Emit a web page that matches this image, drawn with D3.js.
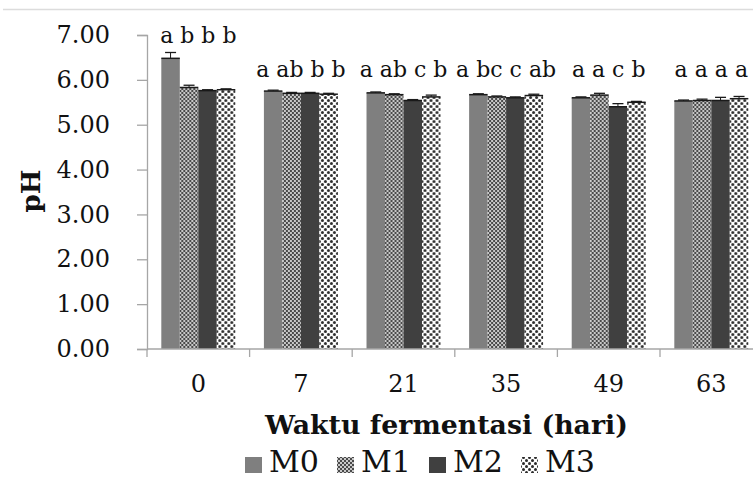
<!DOCTYPE html>
<html>
<head>
<meta charset="utf-8">
<script src="https://cdn.jsdelivr.net/npm/d3@7"></script>
<style>
  html, body { margin: 0; padding: 0; background: #fff; }
  svg { display: block; }
  text { font-family: "DejaVu Serif", serif; fill: #111; }
</style>
</head>
<body>
<svg id="chart" width="753" height="478"></svg>
<script>
// Fermentation days (categories) and treatment series
const categories = ["0", "7", "21", "35", "49", "63"];
const seriesNames = ["M0", "M1", "M2", "M3"];

// Mean pH per treatment
const M0 = [6.48, 5.75, 5.71, 5.67, 5.60, 5.53];
const M1 = [5.83, 5.70, 5.67, 5.62, 5.66, 5.54];
const M2 = [5.76, 5.70, 5.54, 5.60, 5.40, 5.54];
const M3 = [5.78, 5.68, 5.62, 5.65, 5.50, 5.58];

// Standard deviation (error bars)
const M0err = [0.13, 0.02, 0.02, 0.02, 0.02, 0.02];
const M1err = [0.05, 0.02, 0.02, 0.02, 0.04, 0.03];
const M2err = [0.02, 0.02, 0.02, 0.02, 0.07, 0.07];
const M3err = [0.02, 0.02, 0.04, 0.03, 0.02, 0.05];

// Significance letters per day
const sigLetters = ["a b b b", "a ab b b", "a ab c b", "a bc c ab", "a a c b", "a a a a"];
// pH level at which each letter row sits
const sigLevel = [6.82, 6.06, 6.06, 6.06, 6.06, 6.06];

const yTicks = [0, 1, 2, 3, 4, 5, 6, 7];

const values = { M0, M1, M2, M3 };
const errors = { M0: M0err, M1: M1err, M2: M2err, M3: M3err };

const svg = d3.select("#chart");
const plotLeft = 147, plotTop = 35, plotBottom = 349, catStep = 102.6;

const x = d3.scaleBand()
  .domain(categories)
  .range([plotLeft, plotLeft + catStep * categories.length])
  .paddingInner(0.279)
  .paddingOuter(0.1395);
const xs = d3.scaleBand().domain(seriesNames).range([0, x.bandwidth()]);
const y = d3.scaleLinear().domain([0, 7]).range([plotBottom, plotTop]);

// fill patterns
const defs = svg.append("defs");
const p1 = defs.append("pattern").attr("id", "pM1")
  .attr("patternUnits", "userSpaceOnUse").attr("width", 4).attr("height", 4);
p1.append("rect").attr("width", 4).attr("height", 4).attr("fill", "#c8c8c8");
p1.append("rect").attr("width", 2).attr("height", 2).attr("fill", "#4a4a4a");
p1.append("rect").attr("x", 2).attr("y", 2).attr("width", 2).attr("height", 2).attr("fill", "#4a4a4a");

const p3 = defs.append("pattern").attr("id", "pM3")
  .attr("patternUnits", "userSpaceOnUse").attr("width", 6).attr("height", 6);
p3.append("rect").attr("width", 6).attr("height", 6).attr("fill", "#fff");
p3.append("circle").attr("cx", 1.5).attr("cy", 1.5).attr("r", 1.5).attr("fill", "#2a2a2a");
p3.append("circle").attr("cx", 4.5).attr("cy", 4.5).attr("r", 1.5).attr("fill", "#2a2a2a");

const fills = { M0: "#7f7f7f", M1: "url(#pM1)", M2: "#404040", M3: "url(#pM3)" };

// thin frame line at the top
svg.append("line").attr("x1", 3).attr("x2", 753).attr("y1", 9.5).attr("y2", 9.5)
  .attr("stroke", "#dcdcdc").attr("stroke-width", 1.5);

// bars
const groups = svg.append("g").selectAll("g")
  .data(categories)
  .join("g")
  .attr("transform", d => `translate(${x(d)},0)`);

groups.each(function (cat, ci) {
  const g = d3.select(this);
  seriesNames.forEach(s => {
    const v = values[s][ci], e = errors[s][ci];
    const bx = xs(s), bw = xs.bandwidth();
    g.append("rect")
      .attr("x", bx).attr("y", y(v))
      .attr("width", bw).attr("height", y(0) - y(v))
      .attr("fill", fills[s]);
    g.append("line")
      .attr("x1", bx).attr("x2", bx + bw)
      .attr("y1", y(v)).attr("y2", y(v))
      .attr("stroke", "#1a1a1a").attr("stroke-width", 1.5);
    const cx = bx + bw / 2;
    g.append("line")
      .attr("x1", cx).attr("x2", cx)
      .attr("y1", y(v)).attr("y2", y(v + e))
      .attr("stroke", "#1a1a1a").attr("stroke-width", 1);
    g.append("line")
      .attr("x1", cx - 5.5).attr("x2", cx + 5.5)
      .attr("y1", y(v + e)).attr("y2", y(v + e))
      .attr("stroke", "#1a1a1a").attr("stroke-width", 1.3);
  });
  g.append("text")
    .attr("x", x.bandwidth() / 2)
    .attr("y", y(sigLevel[ci]))
    .attr("text-anchor", "middle")
    .attr("font-size", 22)
    .text(sigLetters[ci]);
});

// y axis
const yAxis = svg.append("g")
  .attr("transform", `translate(${plotLeft},0)`)
  .call(d3.axisLeft(y).tickValues(yTicks).tickFormat(d3.format(".2f")).tickSize(10).tickPadding(27));
yAxis.select(".domain").attr("stroke", "#a6a6a6").attr("stroke-width", 1.3);
yAxis.selectAll(".tick line").attr("stroke", "#a6a6a6").attr("stroke-width", 1.3);
yAxis.selectAll(".tick text").attr("font-family", "DejaVu Serif").attr("font-size", 24).attr("fill", "#111");

// x axis: ticks sit between categories
const xEdges = d3.range(categories.length + 1).map(i => plotLeft + i * x.step());
const xAxisG = svg.append("g");
xAxisG.append("line")
  .attr("x1", plotLeft).attr("x2", 753)
  .attr("y1", y(0)).attr("y2", y(0))
  .attr("stroke", "#a6a6a6").attr("stroke-width", 1.3);
xAxisG.selectAll("line.tk").data(xEdges).join("line").attr("class", "tk")
  .attr("x1", d => d).attr("x2", d => d)
  .attr("y1", y(0)).attr("y2", y(0) + 8)
  .attr("stroke", "#a6a6a6").attr("stroke-width", 1.3);
xAxisG.selectAll("text").data(categories).join("text")
  .attr("x", d => x(d) + x.bandwidth() / 2)
  .attr("y", 392)
  .attr("text-anchor", "middle")
  .attr("font-size", 24)
  .text(d => d);

// axis titles
svg.append("text")
  .attr("transform", "translate(40,191) rotate(-90)")
  .attr("text-anchor", "middle")
  .attr("font-weight", "bold")
  .attr("font-size", 26)
  .text("pH");

const fit = (sel, target) => {
  const fs = +sel.attr("font-size");
  const w = sel.node().getComputedTextLength();
  sel.attr("font-size", fs * target / w);
};

const xTitle = svg.append("text")
  .attr("x", 265).attr("y", 434)
  .attr("font-weight", "bold")
  .attr("font-size", 24)
  .text("Waktu fermentasi (hari)");
fit(xTitle, 363);

// legend
const legend = svg.append("g");
let lx = 245;
seriesNames.forEach(s => {
  legend.append("rect")
    .attr("x", lx).attr("y", 457)
    .attr("width", 17).attr("height", 16)
    .attr("fill", fills[s]);
  const t = legend.append("text")
    .attr("x", lx + 24).attr("y", 472)
    .attr("font-size", 27)
    .text(s);
  fit(t, 50);
  lx += 24 + 50 + 18;
});
</script>
</body>
</html>
